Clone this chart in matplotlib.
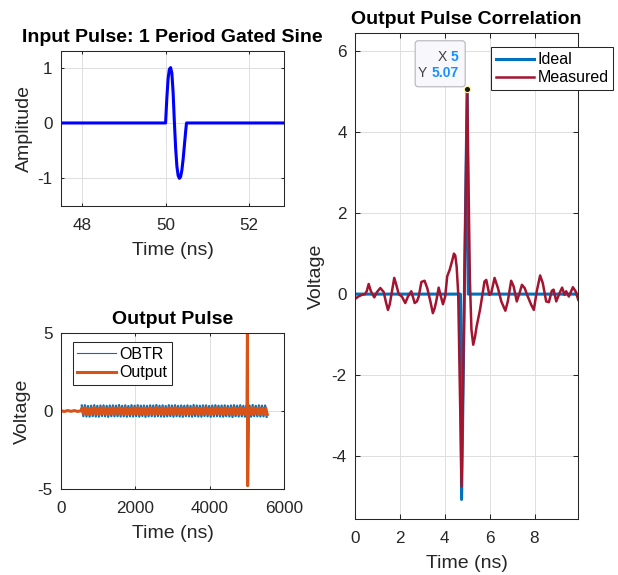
import numpy as np
import matplotlib
matplotlib.use('Agg')
import matplotlib.pyplot as plt
import matplotlib.transforms as mtransforms
from matplotlib.patches import FancyBboxPatch
from matplotlib.lines import Line2D

plt.rcParams['font.family'] = ['Liberation Sans', 'DejaVu Sans']
plt.rcParams['axes.unicode_minus'] = False

# ---- input pulse (1 period gated sine)
pulse_t = [47.5, 50.0, 50.03, 50.06, 50.09, 50.12, 50.15, 50.18, 50.21, 50.24,
           50.27, 50.30, 50.33, 50.36, 50.39, 50.42, 50.45, 50.48, 50.5, 52.83]
pulse_v = [0, 0, 0.45, 0.80, 0.97, 1.0, 0.90, 0.55, 0.02, -0.45,
           -0.78, -0.95, -1.0, -0.97, -0.85, -0.65, -0.40, -0.15, 0, 0]

# ---- output pulse (ns)
obtr_start, obtr_end = 560, 5534
obtr_v = [0.35, -0.33, 0.37, -0.35, 0.32, -0.36, 0.34, -0.33, 0.37, -0.35,
          0.33, -0.36, 0.35, -0.32, 0.36, -0.34, 0.33, -0.37, 0.35, -0.33,
          0.36, -0.34, 0.34, -0.33, 0.38, -0.35, 0.33, -0.34, 0.36, -0.36,
          0.32, -0.34, 0.37, -0.35, 0.34, -0.33, 0.37, -0.36, 0.34, -0.32,
          0.35, -0.37, 0.33, -0.34, 0.36, -0.33, 0.35, -0.35, 0.38, -0.33,
          0.34, -0.35, 0.36, -0.36, 0.32, -0.34, 0.37, -0.33, 0.35, -0.36,
          0.37, -0.33, 0.33, -0.35, 0.35, -0.37, 0.34, -0.33, 0.36, -0.34,
          0.33, -0.36, 0.38, -0.33, 0.35, -0.35, 0.34, -0.36, 0.36, -0.32,
          0.36, -0.34, 0.32, -0.37, 0.35, -0.34, 0.37, -0.33, 0.34, -0.35,
          0.35, -0.36, 0.36, -0.33, 0.33, -0.35, 0.35, -0.38, 0.37, -0.33,
          0.34, -0.35, 0.37, -0.34, 0.33, -0.36, 0.36, -0.33, 0.35, -0.36,
          0.38, -0.33, 0.33, -0.34, 0.36, -0.35, 0.34, -0.34, 0.35, -0.37]

out_quiet_t = [0, 90, 180, 270, 360, 450, 540]
out_quiet_v = [0.02, -0.03, 0.03, -0.02, 0.03, -0.03, 0.02]
out_noise_start, out_noise_end = 560, 5550
out_noise_v = [0.19, -0.17, 0.21, -0.20, 0.16, -0.22, 0.19, -0.16, 0.22, -0.19,
               0.17, -0.21, 0.20, -0.17, 0.22, -0.19, 0.16, -0.21, 0.19, -0.18,
               0.21, -0.20, 0.17, -0.16, 0.22, -0.21, 0.18, -0.19, 0.21, -0.22,
               0.16, -0.18, 0.21, -0.20, 0.19, -0.17, 0.22, -0.21, 0.17, -0.16,
               0.20, -0.22, 0.17, -0.19, 0.21, -0.18, 0.19, -0.21, 0.22, -0.17,
               0.18, -0.20, 0.21, -0.21, 0.16, -0.19, 0.21, -0.17, 0.19, -0.21,
               0.22, -0.16, 0.17, -0.19, 0.20, -0.22, 0.18, -0.18, 0.21, -0.19,
               0.17, -0.21, 0.22, -0.17, 0.19, -0.20, 0.17, -0.21, 0.21, -0.16,
               0.21, -0.19, 0.16, -0.22, 0.20, -0.19, 0.22, -0.17, 0.18, -0.20,
               0.19, -0.21, 0.21, -0.17, 0.17, -0.19, 0.20, -0.22, 0.21, -0.17,
               0.18, -0.20, 0.22, -0.19, 0.17, -0.21, 0.20, -0.18, 0.19, -0.21,
               0.22, -0.17, 0.17, -0.19, 0.21, -0.20, 0.18, -0.19, 0.20, -0.22]
spike_t = [5018, 5022]
spike_v = [5.3, -4.77]

# ---- correlation (ns)
ideal_t = [0, 4.70, 4.75, 5.00, 5.05, 9.95]
ideal_v = [0, 0, -5.07, 5.07, 0, 0]

meas_t = [0.00, 0.15, 0.30, 0.45, 0.53, 0.61, 0.71, 0.86, 0.98, 1.13,
          1.28, 1.38, 1.47, 1.55, 1.62, 1.75, 1.84, 1.95, 2.09, 2.24,
          2.36, 2.51, 2.66, 2.76, 2.84, 2.96, 3.10, 3.22, 3.36, 3.47,
          3.55, 3.62, 3.73, 3.81, 3.92, 4.02, 4.11, 4.22, 4.32, 4.41,
          4.47, 4.53, 4.60, 4.75, 5.00, 5.12, 5.19, 5.27, 5.35, 5.42,
          5.57, 5.69, 5.77, 5.85, 5.99, 6.07, 6.22, 6.37, 6.52, 6.70,
          6.81, 6.96, 7.07, 7.21, 7.33, 7.44, 7.56, 7.70, 7.85, 7.97,
          8.10, 8.25, 8.37, 8.52, 8.64, 8.77, 8.85, 8.97, 9.11, 9.23,
          9.34, 9.41, 9.53, 9.71, 9.83, 9.95]
meas_v = [-0.12, -0.06, -0.02, 0.00, 0.08, 0.25, 0.07, -0.08, 0.05, 0.15,
          0.05, -0.20, -0.39, -0.25, -0.02, 0.40, 0.23, 0.00, -0.06, -0.22,
          -0.06, 0.07, -0.22, -0.18, -0.06, 0.30, 0.33, 0.15, -0.18, -0.47,
          -0.35, -0.18, 0.16, -0.02, -0.25, -0.06, 0.44, 0.60, 0.80, 1.00,
          0.95, 0.68, 0.02, -4.75, 5.07, 0.35, -0.88, -1.25, -1.05, -0.80,
          -0.39, 0.02, 0.31, 0.35, -0.02, 0.02, 0.40, 0.15, -0.18, -0.41,
          -0.18, 0.33, 0.19, -0.18, 0.02, 0.23, 0.15, -0.06, -0.26, -0.39,
          0.07, 0.46, 0.27, -0.18, -0.20, 0.08, 0.11, -0.18, 0.02, 0.16,
          -0.02, 0.07, -0.06, 0.17, 0.07, -0.14]
tip_x, tip_y = 5, 5.07

TXT = '#262626'
FS_TICK, FS_LAB, FS_TITLE, FS_LEG = 12.3, 14, 14, 11.5


def style(ax, ticklen):
    for s in ax.spines.values():
        s.set_color(TXT)
        s.set_linewidth(0.75)
    ax.tick_params(direction='in', top=True, right=True, length=ticklen, width=0.75,
                   color=TXT, labelcolor=TXT, labelsize=FS_TICK, pad=6)
    ax.tick_params(axis='x', pad=8.5)
    ax.grid(True, color='#dedede', linewidth=0.7)
    ax.set_axisbelow(True)


def labels(ax, title, xl, yl, ypad=4):
    ax.set_title(title, fontsize=FS_TITLE, fontweight='bold', pad=6.5)
    ax.set_xlabel(xl, fontsize=FS_LAB, color=TXT, labelpad=6.5)
    ax.set_ylabel(yl, fontsize=FS_LAB, color=TXT, labelpad=ypad)


def legend(ax, handles, names, **kw):
    lg = ax.legend(handles, names, borderaxespad=0, fancybox=False, edgecolor=TXT,
                   framealpha=1, fontsize=FS_LEG, handlelength=2.4, handletextpad=0.2,
                   labelspacing=0.2, borderpad=0.3, **kw)
    lg.get_frame().set_linewidth(0.75)


fig = plt.figure(figsize=(6.18, 5.75), dpi=100)
ax1 = fig.add_axes([0.0987, 0.6417, 0.3608, 0.2696])
ax2 = fig.add_axes([0.0987, 0.149, 0.3608, 0.2724])
ax3 = fig.add_axes([0.5744, 0.0969, 0.3613, 0.8452])

# input pulse
ax1.plot(pulse_t, pulse_v, color='#0000ff', lw=2.2)
ax1.set_xlim(47.5, 52.83)
ax1.set_ylim(-1.5, 1.3)
ax1.set_xticks([48, 50, 52])
ax1.set_yticks([-1, 0, 1])
style(ax1, 2)
labels(ax1, 'Input Pulse: 1 Period Gated Sine', 'Time (ns)', 'Amplitude', ypad=3)

# output pulse
obtr_t = np.linspace(obtr_start, obtr_end, len(obtr_v))
noise_t = np.linspace(out_noise_start, out_noise_end, len(out_noise_v))
out_t = np.concatenate([out_quiet_t, noise_t, spike_t])
out_v = np.concatenate([out_quiet_v, out_noise_v, spike_v])
order = np.argsort(out_t, kind='stable')
ax2.plot(obtr_t, obtr_v, color='#0072bd', lw=1.6)
ax2.plot(out_t[order], out_v[order], color='#d95319', lw=2.2)
ax2.set_xlim(0, 6000)
ax2.set_ylim(-5, 5)
ax2.set_xticks([0, 2000, 4000, 6000])
ax2.set_yticks([-5, 0, 5])
style(ax2, 2)
labels(ax2, 'Output Pulse', 'Time (ns)', 'Voltage', ypad=5)
legend(ax2, [Line2D([], [], color='#0072bd', lw=0.8), Line2D([], [], color='#d95319', lw=2.2)],
       ['OBTR', 'Output'], loc='upper left', bbox_to_anchor=(0.052, 0.939))

# correlation
ax3.plot(ideal_t, ideal_v, color='#0072bd', lw=2.2)
ax3.plot(meas_t, meas_v, color='#a2142f', lw=1.8)
ax3.set_xlim(0, 9.95)
ax3.set_ylim(-5.56, 6.44)
ax3.set_xticks([0, 2, 4, 6, 8])
ax3.set_yticks([-4, -2, 0, 2, 4, 6])
style(ax3, 3.6)
labels(ax3, 'Output Pulse Correlation', 'Time (ns)', 'Voltage', ypad=5)
legend(ax3, [Line2D([], [], color='#0072bd', lw=2.2), Line2D([], [], color='#a2142f', lw=1.8)],
       ['Ideal', 'Measured'], loc='upper right', bbox_to_anchor=(1.157, 0.971))

# data tip
ax3.plot([tip_x], [tip_y], 'o', ms=4.5, mfc='#1a1a1a', mec='#fff6b0', mew=0.8, zorder=5)
px, py = ax3.transData.transform((tip_x, tip_y))
ident = mtransforms.IdentityTransform()
box = FancyBboxPatch((px - 52, py + 2), 50, 46, boxstyle='round,pad=0,rounding_size=3',
                     transform=ident, facecolor='#f8f8fc', edgecolor='#b4b4bc', lw=0.8, zorder=6)
fig.add_artist(box)
tip_blue = '#1890ff'
xv = fig.text(px - 8.4, py + 31.5, '5', transform=ident, ha='right', va='center',
              fontsize=10, fontweight='bold', color=tip_blue, zorder=7)
yv = fig.text(px - 8.4, py + 15.5, '5.07', transform=ident, ha='right', va='center',
              fontsize=10, fontweight='bold', color=tip_blue, zorder=7)
for lab, ref in (('X', xv), ('Y', yv)):
    fig.add_artist(plt.Annotation(lab, xy=(0, 0.5), xycoords=ref, xytext=(-3, 0),
                                  textcoords='offset points', ha='right', va='center',
                                  fontsize=10, color='#404040', zorder=7))

fig.savefig('out.png', dpi=100)
